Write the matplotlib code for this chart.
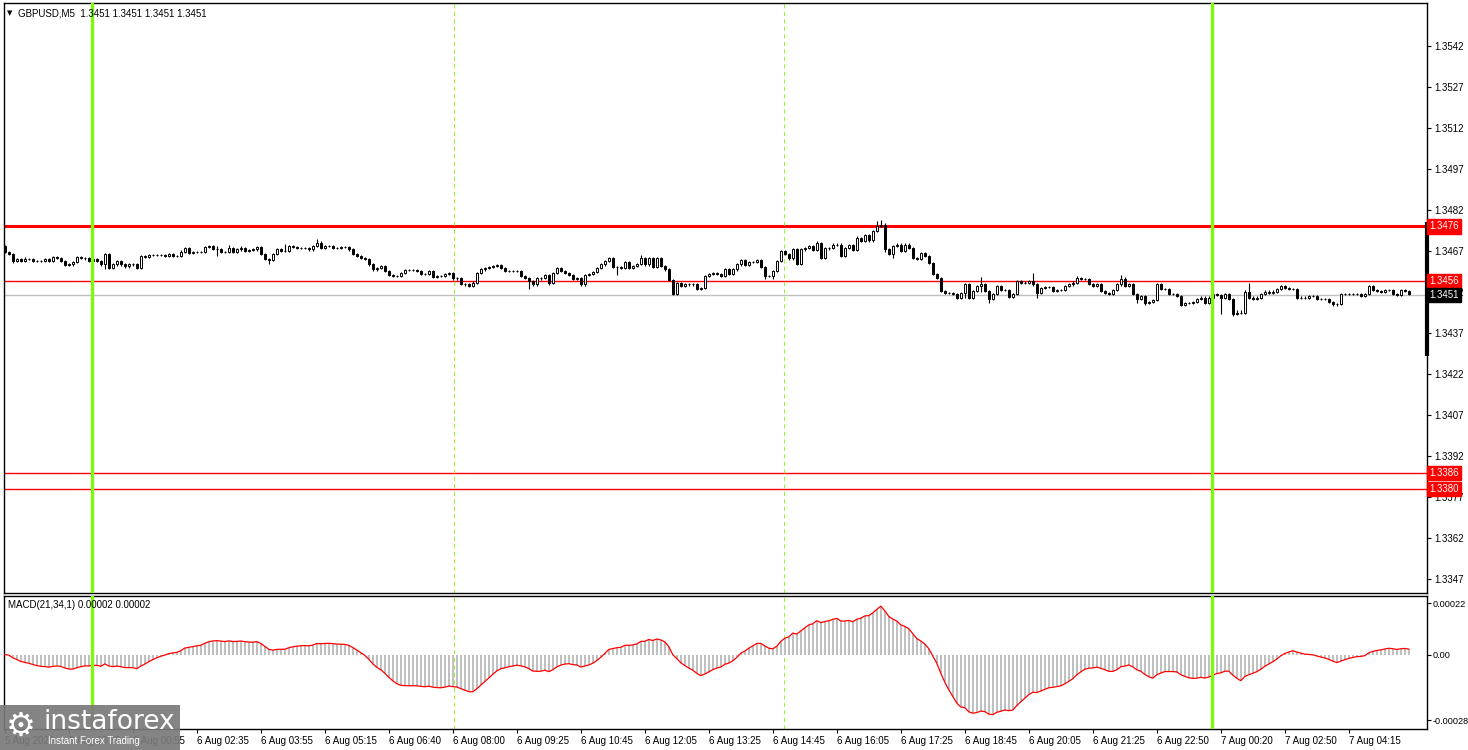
#!/usr/bin/python

import numpy as np
import pandas as pd
from matplotlib import patches
from matplotlib import pyplot
from matplotlib import transforms

SYMBOL_TITLE = 'GBPUSD,M5  1.3451 1.3451 1.3451 1.3451'
MACD_TITLE = 'MACD(21,34,1) 0.00002 0.00002'

# M5 closes, oldest first (open = previous close).
FIRST_OPEN = 1.34688
CLOSES = [
    1.34668, 1.34660, 1.34634, 1.34640, 1.34634, 1.34642, 1.34642, 1.34634, 1.34634, 1.34634,
    1.34640, 1.34634, 1.34648, 1.34646, 1.34634, 1.34619, 1.34621, 1.34631, 1.34648, 1.34646,
    1.34643, 1.34634, 1.34640, 1.34634, 1.34621, 1.34660, 1.34609, 1.34621, 1.34634, 1.34621,
    1.34614, 1.34624, 1.34621, 1.34609, 1.34652, 1.34648, 1.34656, 1.34656, 1.34656, 1.34656,
    1.34653, 1.34660, 1.34652, 1.34652, 1.34668, 1.34682, 1.34664, 1.34667, 1.34667, 1.34667,
    1.34686, 1.34687, 1.34679, 1.34676, 1.34668, 1.34668, 1.34682, 1.34668, 1.34676, 1.34682,
    1.34670, 1.34673, 1.34676, 1.34685, 1.34658, 1.34640, 1.34636, 1.34658, 1.34676, 1.34670,
    1.34670, 1.34688, 1.34685, 1.34682, 1.34682, 1.34680, 1.34676, 1.34688, 1.34701, 1.34682,
    1.34688, 1.34688, 1.34682, 1.34682, 1.34686, 1.34685, 1.34676, 1.34658, 1.34652, 1.34646,
    1.34640, 1.34621, 1.34603, 1.34609, 1.34615, 1.34597, 1.34583, 1.34579, 1.34579, 1.34589,
    1.34600, 1.34600, 1.34600, 1.34597, 1.34587, 1.34587, 1.34597, 1.34575, 1.34579, 1.34579,
    1.34587, 1.34591, 1.34570, 1.34570, 1.34551, 1.34548, 1.34542, 1.34555, 1.34591, 1.34603,
    1.34609, 1.34612, 1.34615, 1.34619, 1.34609, 1.34597, 1.34597, 1.34597, 1.34597, 1.34579,
    1.34573, 1.34561, 1.34548, 1.34570, 1.34573, 1.34583, 1.34555, 1.34591, 1.34607, 1.34597,
    1.34591, 1.34583, 1.34567, 1.34573, 1.34548, 1.34583, 1.34585, 1.34595, 1.34609, 1.34621,
    1.34634, 1.34643, 1.34612, 1.34612, 1.34609, 1.34631, 1.34609, 1.34615, 1.34624, 1.34646,
    1.34621, 1.34643, 1.34612, 1.34643, 1.34615, 1.34603, 1.34563, 1.34514, 1.34552, 1.34542,
    1.34551, 1.34548, 1.34548, 1.34530, 1.34534, 1.34579, 1.34585, 1.34591, 1.34585, 1.34579,
    1.34603, 1.34587, 1.34603, 1.34621, 1.34636, 1.34619, 1.34631, 1.34631, 1.34636, 1.34612,
    1.34579, 1.34579, 1.34597, 1.34634, 1.34670, 1.34658, 1.34643, 1.34676, 1.34624, 1.34676,
    1.34682, 1.34688, 1.34673, 1.34701, 1.34646, 1.34682, 1.34682, 1.34694, 1.34694, 1.34652,
    1.34682, 1.34692, 1.34673, 1.34719, 1.34707, 1.34729, 1.34709, 1.34743, 1.34761, 1.34767,
    1.34676, 1.34658, 1.34688, 1.34694, 1.34670, 1.34694, 1.34682, 1.34646, 1.34640, 1.34664,
    1.34652, 1.34627, 1.34585, 1.34573, 1.34524, 1.34518, 1.34518, 1.34512, 1.34500, 1.34518,
    1.34548, 1.34500, 1.34524, 1.34542, 1.34551, 1.34524, 1.34494, 1.34512, 1.34542, 1.34527,
    1.34527, 1.34502, 1.34512, 1.34561, 1.34555, 1.34555, 1.34561, 1.34548, 1.34518, 1.34536,
    1.34539, 1.34539, 1.34524, 1.34527, 1.34527, 1.34542, 1.34548, 1.34555, 1.34573, 1.34567,
    1.34567, 1.34551, 1.34542, 1.34548, 1.34524, 1.34518, 1.34512, 1.34527, 1.34548, 1.34567,
    1.34542, 1.34548, 1.34512, 1.34494, 1.34506, 1.34481, 1.34485, 1.34490, 1.34548, 1.34530,
    1.34530, 1.34512, 1.34512, 1.34506, 1.34473, 1.34481, 1.34481, 1.34485, 1.34494, 1.34500,
    1.34481, 1.34500, 1.34512, 1.34509, 1.34500, 1.34512, 1.34494, 1.34441, 1.34445, 1.34445,
    1.34522, 1.34500, 1.34496, 1.34500, 1.34512, 1.34522, 1.34518, 1.34522, 1.34530, 1.34542,
    1.34536, 1.34530, 1.34530, 1.34500, 1.34500, 1.34500, 1.34506, 1.34506, 1.34494, 1.34494,
    1.34494, 1.34485, 1.34478, 1.34478, 1.34512, 1.34514, 1.34514, 1.34512, 1.34512, 1.34506,
    1.34512, 1.34542, 1.34527, 1.34524, 1.34522, 1.34527, 1.34527, 1.34514, 1.34509, 1.34527,
    1.34524, 1.34512,
]

# wick lengths beyond the body, in pips
UPPER_WICKS = [
    0.6, 0.4, 0.4, 0.4, 0.4, 0.5, 0.4, 0.4, 0.4, 0.4,
    0.4, 0.4, 0.4, 0.4, 0.4, 0.5, 0.4, 0.4, 0.4, 0.4,
    0.4, 0.4, 0.4, 0.4, 0.4, 0.3, 0.3, 0.4, 0.4, 0.4,
    0.4, 0.4, 0.4, 0.4, 0.5, 0.4, 0.5, 0.4, 0.4, 0.4,
    0.4, 0.4, 0.4, 0.4, 0.5, 0.4, 0.4, 0.4, 0.4, 0.4,
    0.4, 0.4, 0.6, 1.0, 0.4, 0.4, 1.0, 0.4, 0.4, 0.5,
    0.4, 0.4, 0.4, 0.4, 0.4, 0.4, 0.4, 0.4, 0.4, 0.4,
    2.5, 0.4, 0.4, 0.4, 0.4, 0.4, 0.4, 0.4, 1.2, 0.6,
    0.4, 0.4, 0.4, 0.4, 0.4, 0.4, 0.4, 0.4, 0.4, 0.4,
    0.4, 0.4, 0.4, 0.4, 0.4, 0.4, 0.4, 0.4, 0.4, 0.4,
    0.4, 0.5, 0.4, 0.4, 0.4, 0.4, 0.4, 0.4, 0.4, 0.4,
    0.4, 0.4, 0.4, 0.4, 0.4, 0.4, 0.4, 0.4, 0.4, 0.4,
    0.4, 0.4, 0.4, 0.4, 0.4, 0.4, 0.4, 0.4, 0.4, 0.4,
    0.4, 0.4, 0.4, 0.4, 0.4, 0.4, 0.4, 0.4, 0.4, 0.4,
    0.4, 0.4, 0.4, 0.4, 0.4, 0.4, 0.4, 0.4, 0.4, 0.4,
    0.4, 0.4, 0.4, 0.4, 0.4, 0.4, 0.4, 0.4, 0.4, 0.8,
    0.4, 0.4, 0.4, 0.6, 0.4, 0.4, 0.4, 0.4, 0.4, 0.4,
    0.4, 0.4, 0.4, 0.4, 0.4, 0.4, 0.4, 0.4, 0.4, 0.4,
    0.4, 0.4, 0.4, 0.4, 0.4, 0.4, 0.4, 0.4, 0.4, 0.4,
    0.4, 0.4, 0.4, 0.4, 0.4, 0.4, 0.4, 0.4, 0.4, 0.4,
    0.4, 0.4, 0.4, 0.6, 0.4, 0.4, 0.4, 0.4, 0.4, 0.4,
    0.4, 0.4, 0.4, 0.6, 0.4, 0.4, 0.4, 0.4, 2.0, 1.5,
    0.4, 0.4, 0.4, 0.4, 0.4, 0.4, 0.4, 0.4, 0.4, 0.4,
    0.4, 0.4, 0.4, 0.4, 0.4, 0.4, 0.4, 0.4, 0.4, 0.4,
    0.4, 0.4, 0.4, 0.4, 2.5, 0.4, 0.4, 0.4, 0.4, 0.4,
    0.4, 0.4, 0.4, 0.4, 0.4, 0.4, 0.4, 3.0, 0.4, 0.4,
    0.4, 0.4, 0.4, 0.4, 0.4, 0.4, 0.4, 0.4, 0.6, 0.4,
    0.4, 0.4, 0.4, 0.4, 0.4, 0.4, 0.4, 0.4, 0.4, 1.5,
    1.0, 0.4, 0.4, 0.4, 0.4, 0.4, 0.4, 0.4, 0.4, 0.4,
    0.4, 0.4, 0.4, 0.4, 0.4, 0.4, 0.4, 0.4, 0.4, 0.4,
    0.4, 0.4, 0.4, 0.4, 0.4, 0.4, 0.4, 0.4, 1.0, 1.0,
    0.4, 3.0, 0.4, 0.4, 0.4, 0.4, 0.4, 0.4, 0.4, 0.4,
    0.4, 0.4, 0.4, 0.4, 0.4, 0.4, 0.4, 0.4, 0.4, 0.4,
    0.4, 0.4, 0.4, 0.4, 0.4, 0.4, 0.4, 0.4, 0.4, 0.4,
    0.4, 0.4, 0.4, 0.4, 0.4, 0.4, 0.4, 0.4, 0.4, 0.4,
    0.4, 0.4,
]
LOWER_WICKS = [
    0.4, 0.4, 0.8, 0.4, 0.4, 0.4, 0.4, 0.4, 0.4, 0.4,
    0.4, 0.4, 0.4, 0.4, 0.4, 0.4, 0.4, 0.4, 0.4, 0.4,
    0.4, 0.4, 0.4, 0.4, 0.4, 1.8, 0.6, 0.5, 0.4, 0.4,
    0.6, 0.4, 0.4, 0.5, 0.4, 0.4, 0.4, 0.4, 0.4, 0.4,
    0.4, 0.4, 0.4, 0.4, 0.4, 0.4, 0.4, 0.4, 0.4, 0.4,
    0.4, 0.4, 0.4, 2.5, 0.6, 0.4, 0.4, 0.6, 0.4, 0.4,
    0.4, 0.4, 0.4, 0.4, 0.4, 0.4, 1.5, 0.4, 0.4, 0.4,
    0.4, 0.4, 0.4, 0.4, 0.4, 0.4, 0.4, 0.4, 0.4, 0.4,
    0.4, 0.4, 0.4, 0.4, 0.4, 0.4, 0.4, 0.4, 0.4, 0.4,
    0.4, 0.4, 0.6, 0.4, 0.4, 0.4, 0.4, 0.4, 0.4, 0.4,
    0.4, 0.4, 0.4, 0.4, 0.4, 0.4, 0.4, 0.4, 0.4, 0.4,
    0.4, 0.4, 0.4, 0.4, 0.4, 0.4, 0.4, 0.4, 0.4, 0.4,
    0.4, 0.4, 0.4, 0.4, 0.4, 0.4, 0.4, 0.4, 0.4, 0.4,
    0.4, 3.0, 0.4, 0.4, 0.4, 0.4, 1.0, 0.4, 0.4, 0.4,
    0.4, 0.4, 0.4, 0.4, 0.4, 0.4, 0.4, 0.4, 0.4, 0.4,
    0.4, 0.4, 0.4, 3.0, 0.4, 0.4, 0.4, 0.4, 0.4, 0.4,
    0.4, 0.4, 0.4, 0.4, 0.4, 0.4, 0.4, 0.5, 0.4, 0.4,
    0.4, 0.4, 0.4, 0.4, 0.4, 0.4, 0.4, 0.4, 0.4, 0.4,
    0.4, 0.4, 0.4, 0.4, 0.4, 0.4, 0.4, 0.4, 0.4, 0.4,
    1.0, 0.4, 1.0, 0.4, 0.4, 0.4, 0.4, 0.4, 0.4, 0.4,
    0.4, 0.4, 0.4, 0.4, 0.4, 0.4, 0.8, 0.4, 0.4, 0.4,
    0.4, 0.4, 0.4, 0.4, 0.4, 0.4, 0.4, 0.4, 0.4, 0.4,
    0.8, 0.4, 1.2, 0.4, 0.4, 0.4, 0.4, 0.4, 0.4, 0.4,
    0.4, 0.4, 0.4, 0.4, 0.4, 0.4, 0.4, 0.4, 0.4, 0.4,
    2.0, 0.4, 0.4, 0.4, 2.0, 0.4, 1.2, 0.4, 0.4, 0.4,
    0.4, 0.4, 0.4, 0.4, 0.4, 0.4, 0.4, 0.4, 2.0, 0.4,
    0.4, 0.4, 0.4, 0.4, 0.4, 0.4, 0.4, 0.4, 0.4, 0.4,
    0.4, 0.4, 0.4, 0.4, 0.4, 0.4, 0.4, 0.4, 0.4, 0.4,
    0.4, 0.4, 0.4, 1.2, 0.4, 0.8, 0.4, 0.4, 0.4, 0.4,
    0.4, 0.4, 0.4, 0.4, 0.4, 0.4, 0.4, 0.4, 0.4, 0.4,
    0.4, 0.4, 0.4, 0.4, 6.0, 0.4, 0.4, 1.0, 0.4, 0.4,
    0.4, 0.4, 0.4, 0.4, 0.4, 0.4, 0.4, 0.4, 0.4, 0.4,
    0.4, 0.4, 0.4, 0.4, 0.4, 0.4, 0.4, 0.4, 0.4, 0.4,
    0.4, 0.4, 1.0, 0.8, 0.4, 0.4, 0.4, 0.4, 0.4, 0.4,
    0.4, 0.4, 0.4, 0.4, 0.4, 0.4, 0.4, 0.4, 0.4, 0.4,
    0.4, 0.4,
]

TIME_TICKS = [0, 16, 32, 48, 64, 80, 96, 112, 128, 144, 160, 176,
              192, 208, 224, 240, 256, 272, 288, 304, 320, 336]
TIME_LABELS = ['5 Aug 2025', '5 Aug 23:35', '6 Aug 00:55', '6 Aug 02:35',
               '6 Aug 03:55', '6 Aug 05:15', '6 Aug 06:40', '6 Aug 08:00',
               '6 Aug 09:25', '6 Aug 10:45', '6 Aug 12:05', '6 Aug 13:25',
               '6 Aug 14:45', '6 Aug 16:05', '6 Aug 17:25', '6 Aug 18:45',
               '6 Aug 20:05', '6 Aug 21:25', '6 Aug 22:50', '7 Aug 00:20',
               '7 Aug 02:50', '7 Aug 04:15']

PRICE_TICKS = [1.3542, 1.3527, 1.3512, 1.3497, 1.3482, 1.3467, 1.3452,
               1.3437, 1.3422, 1.3407, 1.3392, 1.3377, 1.3362, 1.3347]
RESISTANCE = 1.3476
LEVELS = [1.3456, 1.3386, 1.3380]
BID = 1.3451
DAY_LINES = [21.9, 301.9]
SESSION_LINES = [112.2, 194.9]

MACD_TICKS = [0.00022, 0.0, -0.00028]
MACD_LABELS = ['0.00022', '0.00', '-0.00028']

W, H = 1468, 750
LIME = '#7cfc00'
FONT = 'Liberation Sans'


def px_rect(x0, y0, x1, y1):
  return [x0 / W, 1 - y1 / H, (x1 - x0) / W, (y1 - y0) / H]


def style_axes(ax, size=7, pad=2):
  for spine in ax.spines.values():
    spine.set_color('black')
    spine.set_linewidth(1.0)
  ax.yaxis.tick_right()
  ax.tick_params(axis='y', length=3, width=0.8, pad=pad, labelsize=size,
                 colors='black')


def price_tag(ax, value, color):
  trans = transforms.blended_transform_factory(ax.transAxes, ax.transData)
  ax.annotate('%.4f' % value, xy=(1, value), xycoords=trans,
              xytext=(1.8, 0), textcoords='offset points',
              ha='left', va='center', fontsize=7, color='white',
              annotation_clip=False, zorder=10,
              bbox=dict(boxstyle='square,pad=0.22', fc=color, ec=color))


def main():
  pyplot.rcParams['font.family'] = [FONT, 'DejaVu Sans']
  fig = pyplot.figure(figsize=(W / 100, H / 100), dpi=100)
  ax = fig.add_axes(px_rect(4, 3, 1427, 593))
  mx = fig.add_axes(px_rect(4, 596, 1427, 729), sharex=ax)

  closes = np.array(CLOSES)
  opens = np.concatenate([[FIRST_OPEN], closes[:-1]])
  highs = np.maximum(opens, closes) + np.array(UPPER_WICKS) * 1e-4
  lows = np.minimum(opens, closes) - np.array(LOWER_WICKS) * 1e-4
  x = np.arange(len(closes))

  # reference lines
  ax.axhline(RESISTANCE, color='red', lw=2.2, zorder=1)
  for level in LEVELS:
    ax.axhline(level, color='red', lw=1.0, zorder=1)
  ax.axhline(BID, color='#c0c0c0', lw=1.0, zorder=1)
  for a in (ax, mx):
    for pos in DAY_LINES:
      a.axvline(pos, color=LIME, lw=2.3, zorder=5)
    for pos in SESSION_LINES:
      a.axvline(pos, color=LIME, lw=0.6, ls=(0, (5, 4)), zorder=1)

  # candles
  ax.vlines(x, lows, highs, color='black', lw=0.8, zorder=2)
  body_colors = np.where(closes > opens, 'white', 'black')
  ax.bar(x, np.abs(closes - opens), bottom=np.minimum(opens, closes),
         width=0.55, color=body_colors, edgecolor='black', lw=0.7, zorder=3)

  ax.set_ylim(1.33420, 1.35577)
  ax.set_xlim(-0.2, 355.55)
  ax.set_yticks(PRICE_TICKS)
  ax.set_yticklabels(['%.4f' % p for p in PRICE_TICKS])
  style_axes(ax)
  ax.tick_params(axis='x', bottom=False, labelbottom=False)

  for level in [RESISTANCE] + LEVELS:
    price_tag(ax, level, '#ff0000')
  price_tag(ax, BID, 'black')
  edge = transforms.blended_transform_factory(ax.transAxes, ax.transData)
  ax.plot([1, 1], [1.34778, 1.34286], transform=edge, color='black',
          lw=3, clip_on=False, zorder=9, solid_capstyle='butt')

  # MACD(21,34,1) from the closes
  series = pd.Series(closes)
  macd = (series.ewm(span=21, adjust=False).mean()
          - series.ewm(span=34, adjust=False).mean())
  mx.bar(x, macd, width=0.5, color='#c0c0c0', zorder=2)
  mx.plot(x, macd, color='red', lw=0.9, zorder=3)
  mx.set_ylim(-0.000318, 0.00025)
  mx.set_yticks(MACD_TICKS)
  mx.set_yticklabels(MACD_LABELS)
  style_axes(mx, size=6.6, pad=1)
  mx.set_xticks(TIME_TICKS)
  mx.set_xticklabels(TIME_LABELS)
  mx.tick_params(axis='x', length=3, width=0.8, pad=2, labelsize=7,
                 colors='black')
  for label in mx.get_xticklabels():
    label.set_horizontalalignment('left')

  # headers
  fig.text(7 / W, 1 - 13 / H, '\u25bc', fontsize=5, va='center',
           family='DejaVu Sans')
  fig.text(18 / W, 1 - 13 / H, SYMBOL_TITLE, fontsize=7, va='center')
  fig.text(8 / W, 1 - 605 / H, MACD_TITLE, fontsize=7, va='center')

  # watermark
  fig.patches.append(patches.Rectangle(
      (0, 0), 180 / W, 45 / H, transform=fig.transFigure,
      facecolor='#7a7a7a', alpha=0.92, edgecolor='none', zorder=20))
  fig.text(6 / W, 1 - 726 / H, '\u2699', fontsize=24, color='white',
           va='center', family='DejaVu Sans', zorder=21)
  fig.text(44 / W, 1 - 722 / H, 'instaforex', fontsize=19, color='white',
           va='center', family='DejaVu Sans', zorder=21)
  fig.text(48 / W, 1 - 741 / H, 'Instant Forex Trading', fontsize=7,
           color='white', va='center', zorder=21)

  fig.savefig('out.png', dpi=100, facecolor='white')


if __name__ == '__main__':
  main()
